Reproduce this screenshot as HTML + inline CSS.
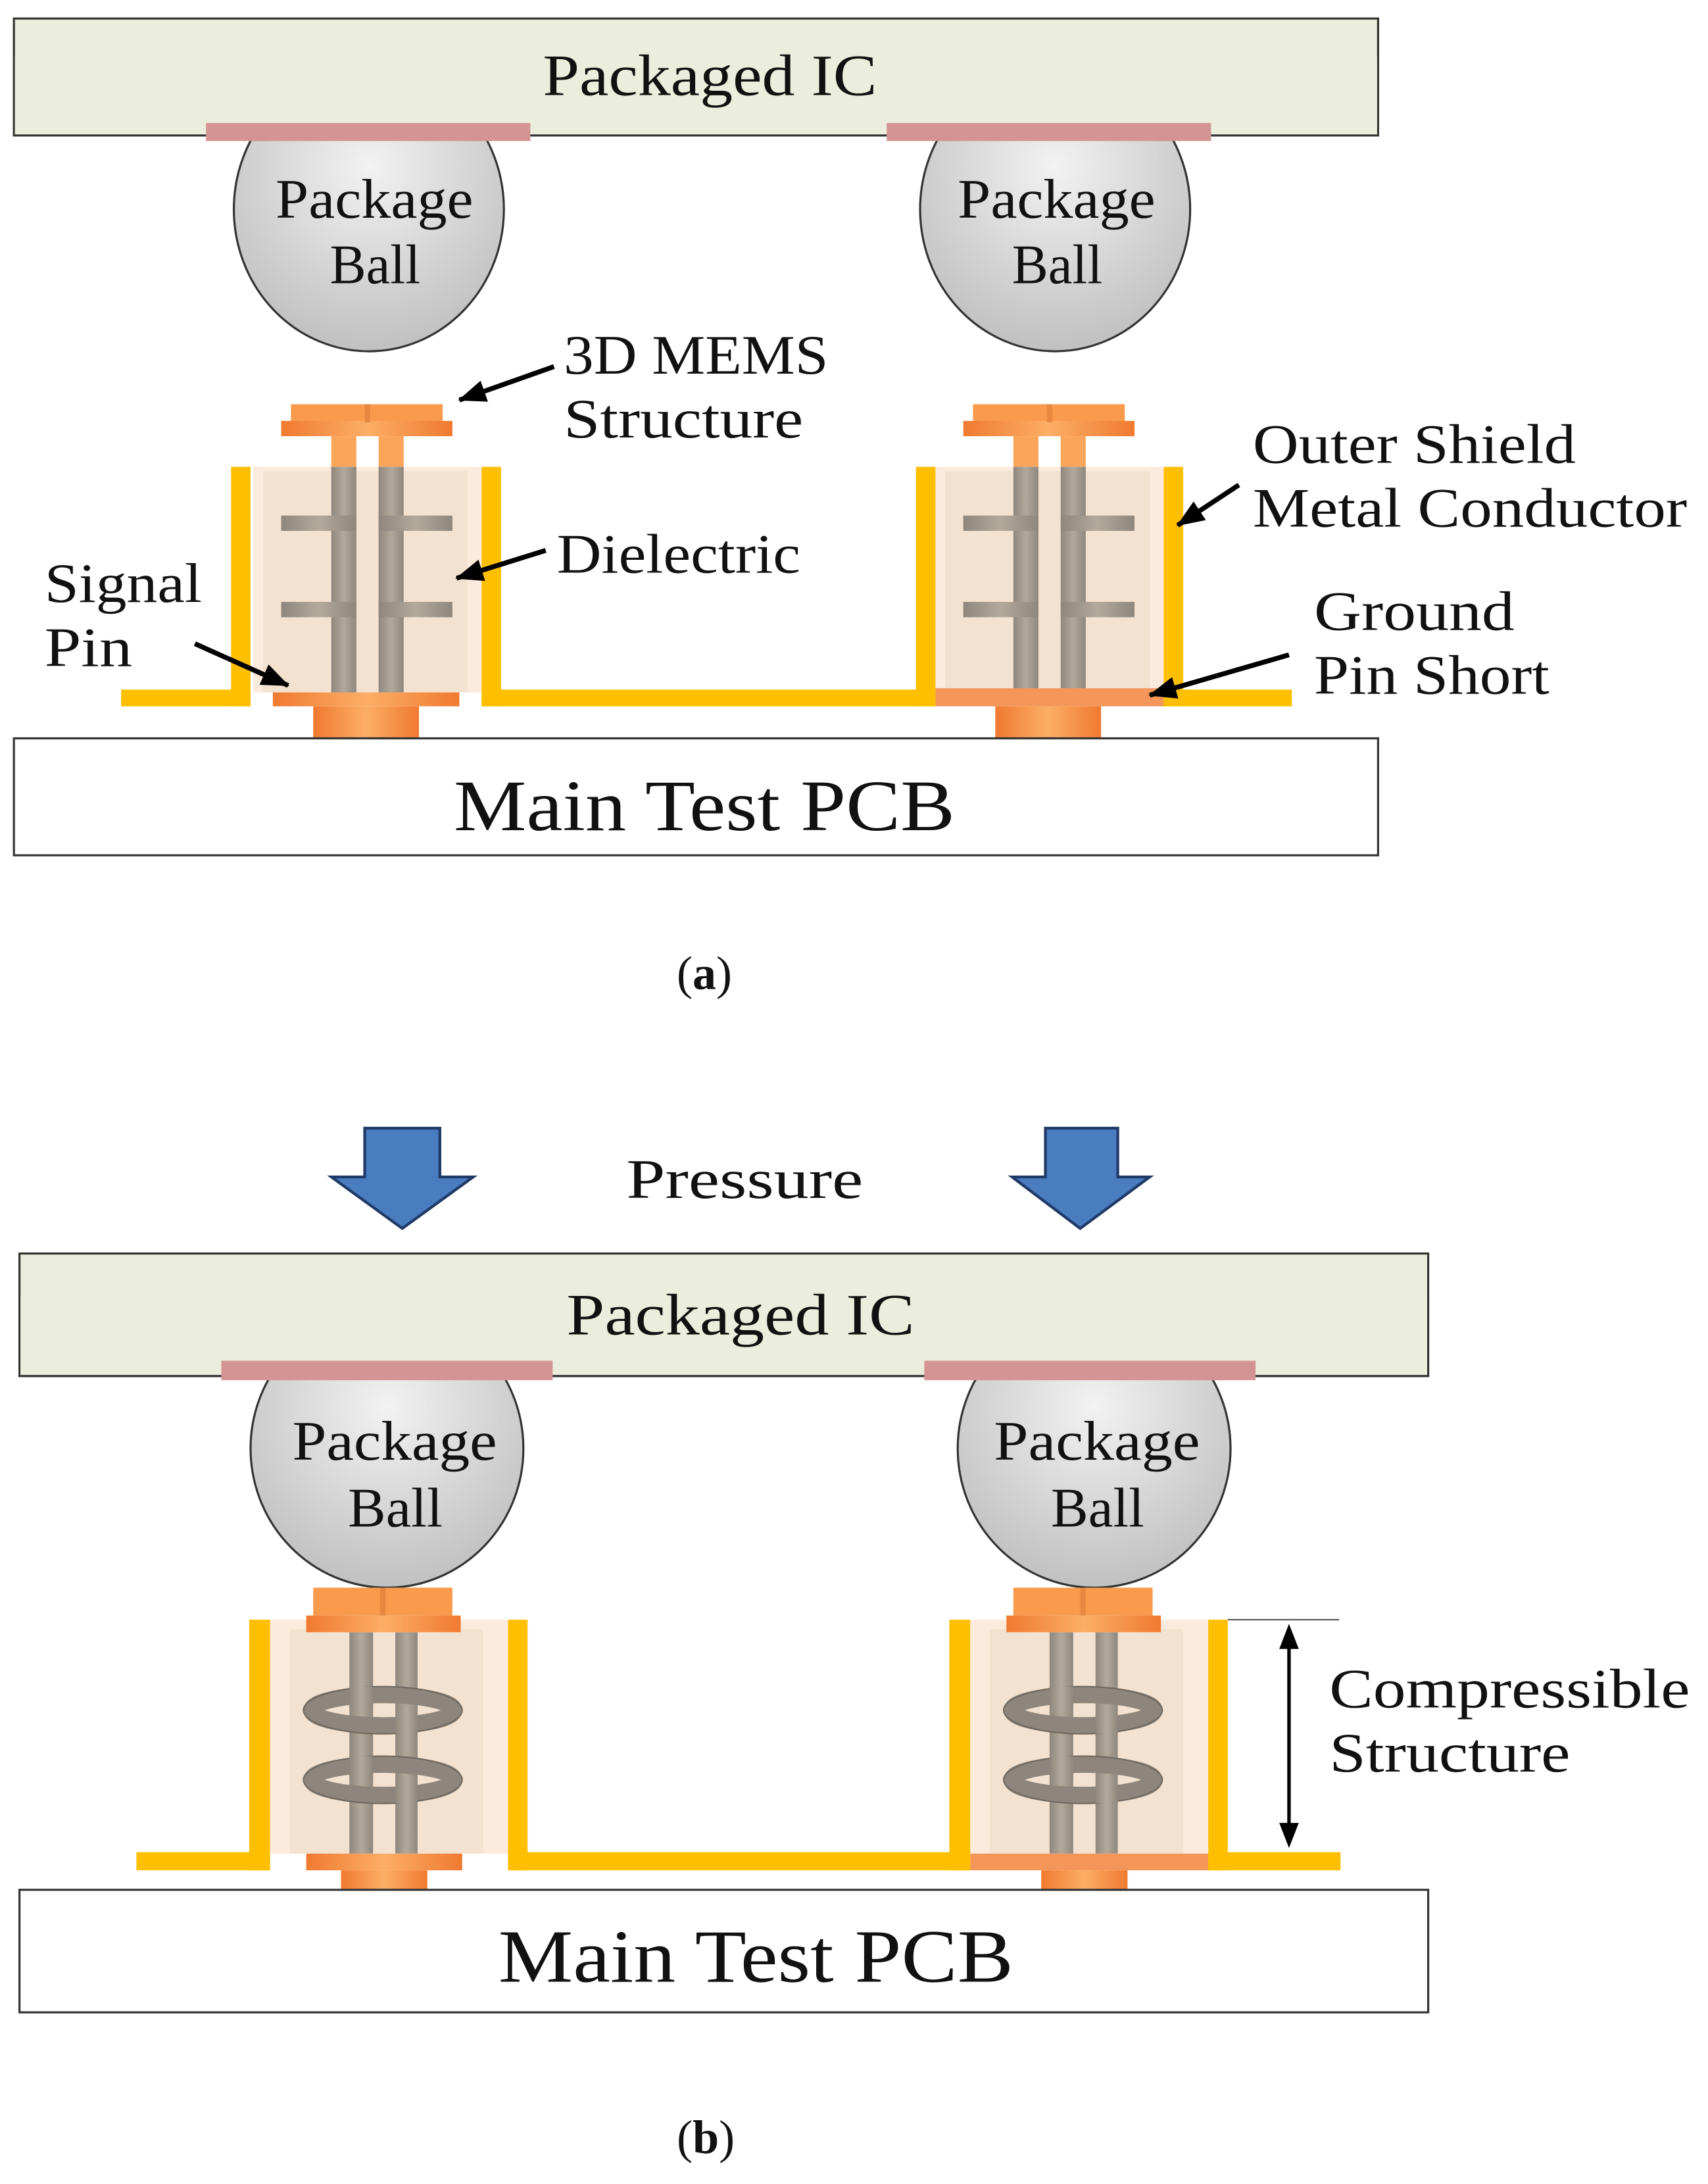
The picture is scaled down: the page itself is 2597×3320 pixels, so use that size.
<!DOCTYPE html>
<html><head><meta charset="utf-8"><style>
html,body{margin:0;padding:0;background:#fff}
svg{display:block}
text{font-family:"Liberation Serif",serif;fill:#111}
</style></head><body>
<svg width="2597" height="3320" viewBox="0 0 1227 1568" xmlns="http://www.w3.org/2000/svg">
<defs>
<radialGradient id="ball" cx="0.5" cy="0.35" r="0.7"><stop offset="0" stop-color="#f2f2f2"/><stop offset="1" stop-color="#bdbdbd"/></radialGradient>
<linearGradient id="org" x1="0" x2="1"><stop offset="0" stop-color="#f07a30"/><stop offset="0.5" stop-color="#fcae66"/><stop offset="1" stop-color="#f07a30"/></linearGradient>
<linearGradient id="gry" x1="0" x2="1"><stop offset="0" stop-color="#8f877d"/><stop offset="0.5" stop-color="#b3a99b"/><stop offset="1" stop-color="#8f877d"/></linearGradient>
<marker id="ah2" markerWidth="20" markerHeight="16" refX="19" refY="8" orient="auto" markerUnits="userSpaceOnUse"><path d="M0,0 L20,8 L0,16z" fill="#000"/></marker>
<g id="pinA">
 <rect x="182" y="335" width="164" height="162" fill="#fcebdc"/>
 <rect x="189" y="338" width="147" height="159" fill="#f3e2d0"/>
 <rect x="238" y="313" width="18" height="22" fill="#fba55a"/>
 <rect x="272" y="313" width="18" height="22" fill="#fba55a"/>
 <rect x="238" y="335" width="18" height="162" fill="url(#gry)"/>
 <rect x="272" y="335" width="18" height="162" fill="url(#gry)"/>
 <rect x="202" y="370" width="54" height="11" fill="url(#gry)"/>
 <rect x="272" y="370" width="53" height="11" fill="url(#gry)"/>
 <rect x="202" y="432" width="54" height="11" fill="url(#gry)"/>
 <rect x="272" y="432" width="53" height="11" fill="url(#gry)"/>
 <rect x="209" y="290" width="109" height="13" fill="#f99a4c"/>
 <rect x="202" y="302" width="123" height="11" fill="url(#org)"/>
 <rect x="262" y="290" width="4" height="13" fill="#e88840"/>
 <rect x="225" y="507" width="76" height="23" fill="url(#org)"/>
</g>
<g id="pinB">
 <rect x="194" y="1163" width="171" height="168" fill="#fcebdc"/>
 <rect x="208" y="1170" width="139" height="161" fill="#f3e2d0"/>
 <rect x="251" y="1172" width="17" height="159" fill="url(#gry)"/>
 <rect x="284" y="1172" width="16" height="159" fill="url(#gry)"/>
 <g fill="none" stroke="#8e867c" stroke-width="12">
  <ellipse cx="275" cy="1228" rx="51" ry="11"/>
  <ellipse cx="275" cy="1278" rx="51" ry="11"/>
 </g>
 <g fill="none" stroke="#6f685f" stroke-width="1">
  <ellipse cx="275" cy="1228" rx="57" ry="17"/>
  <ellipse cx="275" cy="1278" rx="57" ry="17"/>
 </g>
 <rect x="251" y="1211" width="17" height="16" fill="url(#gry)"/>
 <rect x="284" y="1230" width="16" height="15" fill="url(#gry)"/>
 <rect x="251" y="1261" width="17" height="16" fill="url(#gry)"/>
 <rect x="284" y="1280" width="16" height="15" fill="url(#gry)"/>
 <rect x="225" y="1140" width="100" height="20" fill="#f99a4c"/>
 <rect x="220" y="1160" width="111" height="12" fill="url(#org)"/>
 <rect x="273" y="1140" width="4" height="20" fill="#e88840"/>
 <rect x="245" y="1343" width="62" height="14" fill="url(#org)"/>
</g>
</defs>

<!-- (a) -->
<rect x="10" y="13" width="980" height="84" fill="#ebeedc" stroke="#333" stroke-width="1.5"/>
<ellipse cx="265" cy="150" rx="97" ry="102" fill="url(#ball)" stroke="#333" stroke-width="1.5"/>
<ellipse cx="758" cy="150" rx="97" ry="102" fill="url(#ball)" stroke="#333" stroke-width="1.5"/>
<rect x="10.75" y="40" width="978.5" height="56.25" fill="#ebeedc"/>
<line x1="10" y1="97" x2="990" y2="97" stroke="#333" stroke-width="1.5"/>
<text x="390" y="68" font-size="42" textLength="240" lengthAdjust="spacingAndGlyphs">Packaged IC</text>
<rect x="148" y="88" width="233" height="13" fill="#d49494"/>
<rect x="637" y="88" width="233" height="13" fill="#d49494"/>
<g font-size="40">
<text x="198" y="156" textLength="142" lengthAdjust="spacingAndGlyphs">Package</text>
<text x="237" y="203" textLength="65" lengthAdjust="spacingAndGlyphs">Ball</text>
<text x="688" y="156" textLength="142" lengthAdjust="spacingAndGlyphs">Package</text>
<text x="727" y="203" textLength="65" lengthAdjust="spacingAndGlyphs">Ball</text>
</g>

<use href="#pinA"/>
<use href="#pinA" transform="translate(490,0)"/>
<rect x="196" y="497" width="134" height="10" fill="url(#org)"/>
<rect x="672" y="494" width="164" height="13" fill="#f4965a"/>
<g fill="#fdbf00">
 <rect x="166" y="335" width="14" height="172"/>
 <rect x="87" y="495" width="93" height="12"/>
 <rect x="346" y="335" width="14" height="172"/>
 <rect x="346" y="495" width="326" height="12"/>
 <rect x="658" y="335" width="14" height="172"/>
 <rect x="836" y="335" width="14" height="172"/>
 <rect x="836" y="495" width="92" height="12"/>
</g>
<rect x="10" y="530" width="980" height="84" fill="#fff" stroke="#333" stroke-width="1.5"/>
<text x="326" y="596" font-size="52" textLength="360" lengthAdjust="spacingAndGlyphs">Main Test PCB</text>

<g stroke="#000" stroke-width="3.5" fill="none">
 <line x1="398" y1="263" x2="330" y2="287" marker-end="url(#ah2)"/>
 <line x1="392" y1="395" x2="328" y2="415" marker-end="url(#ah2)"/>
 <line x1="140" y1="462" x2="207" y2="492" marker-end="url(#ah2)"/>
 <line x1="890" y1="348" x2="846" y2="377" marker-end="url(#ah2)"/>
 <line x1="926" y1="470" x2="826" y2="499" marker-end="url(#ah2)"/>
</g>
<g font-size="40">
 <text x="405" y="268" textLength="190" lengthAdjust="spacingAndGlyphs">3D MEMS</text>
 <text x="405" y="314" textLength="172" lengthAdjust="spacingAndGlyphs">Structure</text>
 <text x="400" y="411" textLength="175" lengthAdjust="spacingAndGlyphs">Dielectric</text>
 <text x="32" y="432" textLength="113" lengthAdjust="spacingAndGlyphs">Signal</text>
 <text x="32" y="478" textLength="63" lengthAdjust="spacingAndGlyphs">Pin</text>
 <text x="900" y="332" textLength="232" lengthAdjust="spacingAndGlyphs">Outer Shield</text>
 <text x="900" y="378" textLength="312" lengthAdjust="spacingAndGlyphs">Metal Conductor</text>
 <text x="944" y="452" textLength="144" lengthAdjust="spacingAndGlyphs">Ground</text>
 <text x="944" y="498" textLength="169" lengthAdjust="spacingAndGlyphs">Pin Short</text>
</g>
<text x="506" y="710" font-size="34" text-anchor="middle">(<tspan font-weight="bold">a</tspan>)</text>

<!-- (b) -->
<g fill="#4a7cc0" stroke="#1f3a66" stroke-width="2">
 <path d="M262,810 H316 V845 H340 L289,882 L238,845 H262 Z"/>
 <path d="M751,810 H803 V845 H826 L776,882 L727,845 H751 Z"/>
</g>
<text x="450" y="860" font-size="40" textLength="170" lengthAdjust="spacingAndGlyphs">Pressure</text>

<rect x="14" y="900" width="1012" height="88" fill="#ebeedc" stroke="#333" stroke-width="1.5"/>
<ellipse cx="278" cy="1040" rx="98" ry="100" fill="url(#ball)" stroke="#333" stroke-width="1.5"/>
<ellipse cx="786" cy="1040" rx="98" ry="100" fill="url(#ball)" stroke="#333" stroke-width="1.5"/>
<rect x="14.75" y="930" width="1010.5" height="57.25" fill="#ebeedc"/>
<line x1="14" y1="988" x2="1026" y2="988" stroke="#333" stroke-width="1.5"/>
<text x="407" y="958" font-size="42" textLength="250" lengthAdjust="spacingAndGlyphs">Packaged IC</text>
<rect x="159" y="977" width="238" height="14" fill="#d49494"/>
<rect x="664" y="977" width="238" height="14" fill="#d49494"/>
<g font-size="40">
<text x="210" y="1048" textLength="147" lengthAdjust="spacingAndGlyphs">Package</text>
<text x="250" y="1096" textLength="68" lengthAdjust="spacingAndGlyphs">Ball</text>
<text x="714" y="1048" textLength="148" lengthAdjust="spacingAndGlyphs">Package</text>
<text x="755" y="1096" textLength="67" lengthAdjust="spacingAndGlyphs">Ball</text>
</g>

<use href="#pinB"/>
<use href="#pinB" transform="translate(503,0)"/>
<rect x="697" y="1331" width="171" height="12" fill="#f4965a"/>
<rect x="220" y="1331" width="112" height="12" fill="url(#org)"/>
<g fill="#fdbf00">
 <rect x="179" y="1163" width="15" height="180"/>
 <rect x="98" y="1330" width="96" height="13"/>
 <rect x="365" y="1163" width="14" height="180"/>
 <rect x="365" y="1330" width="332" height="13"/>
 <rect x="682" y="1163" width="15" height="180"/>
 <rect x="868" y="1163" width="14" height="180"/>
 <rect x="868" y="1330" width="95" height="13"/>
</g>
<rect x="14" y="1357" width="1012" height="88" fill="#fff" stroke="#333" stroke-width="1.5"/>
<text x="358" y="1423" font-size="54" textLength="370" lengthAdjust="spacingAndGlyphs">Main Test PCB</text>

<line x1="882" y1="1163" x2="962" y2="1163" stroke="#555" stroke-width="1"/>
<line x1="926" y1="1180" x2="926" y2="1312" stroke="#000" stroke-width="2.5"/>
<path d="M926,1166 L919,1184 L933,1184 Z M926,1327 L919,1309 L933,1309 Z" fill="#000"/>
<text x="955" y="1226" font-size="40" textLength="259" lengthAdjust="spacingAndGlyphs">Compressible</text>
<text x="955" y="1272" font-size="40" textLength="173" lengthAdjust="spacingAndGlyphs">Structure</text>
<text x="507" y="1546" font-size="34" text-anchor="middle">(<tspan font-weight="bold">b</tspan>)</text>
</svg>
</body></html>
